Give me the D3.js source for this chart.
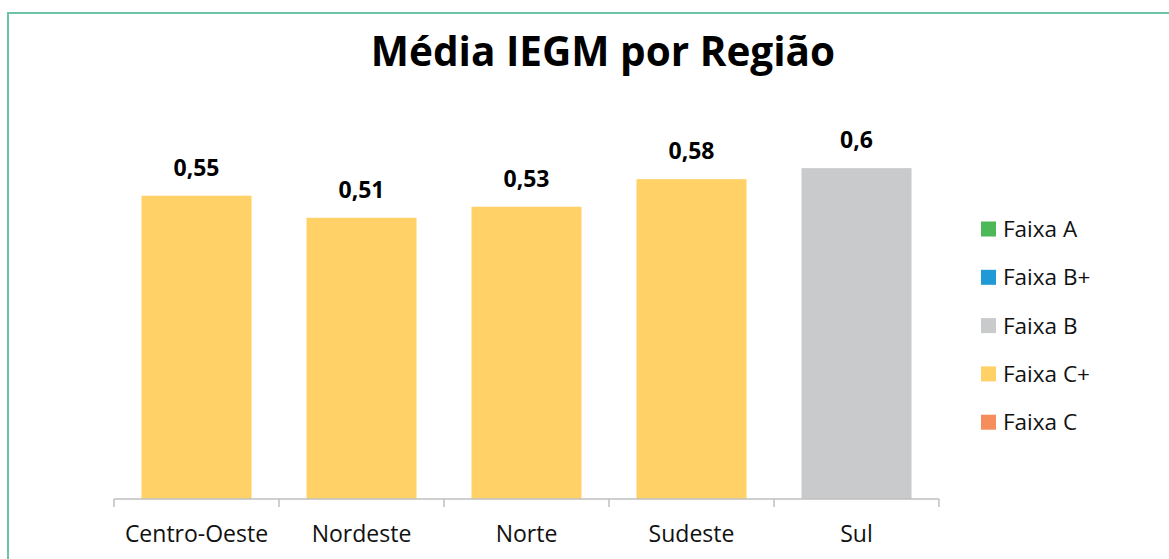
<!DOCTYPE html>
<html>
<head>
	<meta charset="utf-8">
	<title>Média IEGM por Região</title>
	<script src="https://d3js.org/d3.v7.min.js"></script>
	<style>
		body { margin: 0; background: #fff; }
		svg { display: block; font-family: "Open Sans", "Noto Sans", sans-serif; }
	</style>
</head>
<body>
	<div id="chart"></div>
	<script>
		// dados
		const regioes = ["Centro-Oeste", "Nordeste", "Norte", "Sudeste", "Sul"]
		const medias = [0.55, 0.51, 0.53, 0.58, 0.6]
		const faixasRegiao = ["Faixa C+", "Faixa C+", "Faixa C+", "Faixa C+", "Faixa B"]
		const faixas = ["Faixa A", "Faixa B+", "Faixa B", "Faixa C+", "Faixa C"]
		const coresFaixa = ["#4cb858", "#1f9ad6", "#c9cacc", "#ffd166", "#f68d5c"]

		const W = 1169, H = 559
		const margin = {top: 113, left: 114, right: 230, bottom: 60}

		const svg = d3.select("#chart").append("svg")
			.attr("width", W).attr("height", H)

		// moldura
		svg.append("rect")
			.attr("x", 8).attr("y", 13)
			.attr("width", W + 20).attr("height", H + 20)
			.attr("fill", "none")
			.attr("stroke", "#6cc4a8")
			.attr("stroke-width", 2)

		svg.append("text")
			.attr("x", 603).attr("y", 66)
			.attr("text-anchor", "middle")
			.attr("font-size", 40.5)
			.attr("font-weight", "bold")
			.attr("fill", "#000")
			.text("Média IEGM por Região")

		const x = d3.scaleBand()
			.domain(regioes)
			.range([margin.left, W - margin.right])
			.paddingInner(1 / 3).paddingOuter(1 / 6)

		const y = d3.scaleLinear()
			.domain([0, 0.7])
			.range([H - margin.bottom, margin.top])

		const color = d3.scaleOrdinal().domain(faixas).range(coresFaixa)

		const dados = regioes.map((r, i) => ({regiao: r, valor: medias[i], faixa: faixasRegiao[i]}))

		svg.selectAll("rect.barra")
			.data(dados)
			.enter()
			.append("rect")
			 .attr("class", "barra")
			 .attr("x", d => x(d.regiao))
			 .attr("y", d => y(d.valor))
			 .attr("width", x.bandwidth())
			 .attr("height", d => y(0) - y(d.valor))
			 .attr("fill", d => color(d.faixa))

		svg.selectAll("text.valor")
			.data(dados)
			.enter()
			.append("text")
			 .attr("class", "valor")
			 .attr("x", d => x(d.regiao) + x.bandwidth() / 2)
			 .attr("y", d => y(d.valor) - 20)
			 .attr("text-anchor", "middle")
			 .attr("font-size", 23)
			 .attr("font-weight", "bold")
			 .attr("fill", "#000")
			 .text(d => String(d.valor).replace(".", ","))

		// eixo x
		const step = x.step()
		const eixo = svg.append("g")
		eixo.append("line")
			.attr("x1", margin.left).attr("x2", W - margin.right)
			.attr("y1", y(0)).attr("y2", y(0))
			.attr("stroke", "#bfbfbf").attr("stroke-width", 1.5)
		eixo.selectAll("line.tick")
			.data(d3.range(regioes.length + 1))
			.enter()
			.append("line")
			 .attr("class", "tick")
			 .attr("x1", i => margin.left + i * step).attr("x2", i => margin.left + i * step)
			 .attr("y1", y(0)).attr("y2", y(0) + 8)
			 .attr("stroke", "#bfbfbf").attr("stroke-width", 1.5)
		eixo.selectAll("text")
			.data(regioes)
			.enter()
			.append("text")
			 .attr("x", d => x(d) + x.bandwidth() / 2)
			 .attr("y", y(0) + 43)
			 .attr("text-anchor", "middle")
			 .attr("font-size", 23)
			 .attr("fill", "#111")
			 .text(d => d)

		// legenda
		const leg = svg.append("g")
		faixas.forEach((f, i) => {
			const ly = 229 + i * 48.3
			leg.append("rect")
				.attr("x", 981).attr("y", ly - 7.5)
				.attr("width", 15).attr("height", 15)
				.attr("fill", color(f))
			leg.append("text")
				.attr("x", 1003).attr("y", ly + 8)
				.attr("font-size", 22.5)
				.attr("fill", "#111")
				.text(f)
		})
	</script>
</body>
</html>
